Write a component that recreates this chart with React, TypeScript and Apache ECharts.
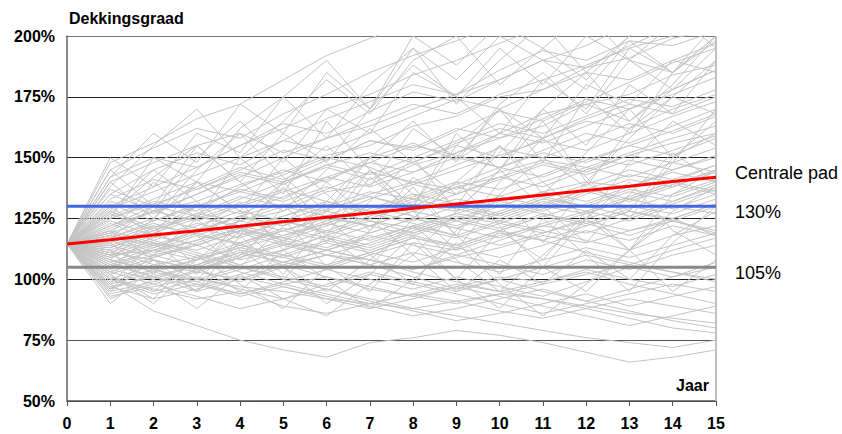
import React, { useEffect, useRef } from "react";
import * as echarts from "echarts";

const years = [0, 1, 2, 3, 4, 5, 6, 7, 8, 9, 10, 11, 12, 13, 14, 15];
const startValue = 114.5;
const yTicks = [50, 75, 100, 125, 150, 175, 200];

const central = [114.5, 116.3, 118.2, 120, 121.8, 123.7, 125.5, 127.3, 129.2, 131, 132.8, 134.7, 136.5, 138.3, 140.2, 142];
const boundHigh = 130;
const boundLow = 105;

// Simulated paths, years 1..15 (year 0 = startValue)
const paths: number[][] = [
  [120,128,135,142,150,158,163,170,176,182,190,196,205,210,215],
  [108,104,100,97,95,92,90,88,91,94,92,89,86,84,82],
  [125,132,128,138,145,140,150,156,149,160,168,172,165,178,186],
  [110,112,118,115,120,125,122,128,133,130,136,140,138,145,150],
  [98,87,81,75,71,68,74,76,79,77,74,70,66,68,71],
  [116,122,119,126,131,128,135,140,137,144,149,146,152,158,163],
  [95,99,103,100,106,110,108,104,109,113,118,115,120,124,119],
  [130,138,146,155,162,170,176,184,190,197,204,210,215,220,225],
  [112,106,109,103,98,101,96,93,97,101,99,104,100,97,102],
  [105,110,114,108,112,118,124,121,127,132,128,135,141,138,144],
  [140,148,155,160,152,158,165,172,168,176,182,188,195,200,205],
  [100,96,92,95,89,86,90,94,91,87,84,88,92,89,86],
  [118,113,120,126,122,129,134,130,138,142,148,144,151,156,160],
  [122,130,126,133,140,146,141,148,155,150,158,165,162,170,176],
  [109,115,112,118,124,120,116,122,127,124,130,127,133,129,135],
  [93,97,101,96,92,98,103,99,95,100,105,110,106,112,117],
  [128,121,130,137,133,142,148,155,151,146,153,160,156,163,170],
  [113,119,125,131,137,132,127,123,118,124,120,116,112,118,122],
  [106,101,97,102,107,104,110,115,112,118,122,127,133,139,145],
  [135,145,152,147,157,166,173,180,176,186,194,190,198,196,202],
  [99,104,108,113,109,105,111,117,114,120,116,111,107,103,99],
  [117,124,131,127,134,141,148,144,152,160,156,163,170,176,183],
  [111,108,104,110,116,112,108,103,99,95,99,103,98,94,90],
  [124,118,114,120,126,132,128,134,140,137,143,150,147,153,159],
  [103,109,115,121,117,123,129,135,131,127,133,139,145,141,147],
  [145,154,162,158,168,176,185,192,198,205,210,214,218,222,226],
  [97,92,96,101,97,93,89,85,88,92,96,91,87,83,80],
  [119,125,121,117,124,130,136,133,139,146,142,149,155,151,158],
  [107,113,119,114,110,116,112,118,124,120,126,131,137,134,140],
  [132,127,135,143,139,147,152,148,156,162,158,166,172,168,175],
  [114,109,114,120,115,110,106,111,107,103,108,113,109,114,119],
  [101,95,100,105,101,97,102,98,94,90,86,90,94,98,95],
  [126,133,140,136,143,150,146,139,145,151,157,153,160,167,173],
  [110,116,111,106,112,118,114,120,126,123,129,136,132,138,145],
  [121,128,132,139,144,151,155,163,167,175,178,187,191,199,203],
  [104,100,106,112,109,115,111,107,113,119,116,122,128,125,131],
  [137,130,138,146,141,149,157,153,161,169,165,173,181,189,195],
  [96,102,98,94,99,104,100,96,101,97,93,99,105,101,107],
  [115,121,127,124,130,126,133,139,135,142,138,145,151,148,154],
  [108,103,108,113,118,123,119,125,121,117,123,128,124,130,127],
  [123,116,122,128,124,119,125,131,128,134,130,137,143,140,147],
  [100,106,103,109,115,112,118,114,110,116,122,119,125,131,137],
  [129,136,143,150,157,153,160,167,174,170,178,185,182,190,197],
  [112,118,114,120,117,113,119,125,121,127,133,130,136,132,139],
  [94,98,93,88,92,96,91,87,83,86,90,94,89,93,97],
  [118,111,116,121,126,131,127,133,129,125,131,137,133,139,135],
  [105,112,116,124,128,136,139,147,152,158,163,172,176,184,188],
  [127,120,126,121,116,122,128,124,130,126,132,128,134,140,136],
  [116,110,105,111,107,112,108,104,110,106,102,108,104,110,114],
  [142,150,146,155,164,160,169,177,173,182,190,187,196,204,210],
  [109,114,120,126,122,128,124,119,125,121,127,123,118,124,130],
  [98,103,99,104,110,106,111,117,113,109,114,120,116,122,118],
  [120,115,110,105,100,96,92,88,85,82,79,76,74,72,75],
  [113,120,127,134,130,137,144,140,147,154,150,157,164,160,167],
  [102,108,104,99,105,110,106,101,96,100,95,91,96,101,105],
  [131,124,130,136,132,138,134,129,135,141,147,143,149,145,151],
  [111,117,123,119,114,120,126,132,138,134,140,146,142,148,144],
  [125,131,137,144,140,147,143,150,157,164,160,167,174,171,178],
  [106,112,108,114,120,116,122,118,114,120,126,122,128,124,120],
  [117,123,118,124,120,126,122,128,124,130,136,132,138,144,140],
  [100,94,98,93,97,92,88,92,97,93,89,85,81,85,89],
  [148,156,166,172,182,192,199,206,212,218,222,226,230,234,238],
  [119,114,109,115,121,117,113,119,125,131,127,123,129,135,141],
  [107,101,95,100,106,101,97,93,90,94,98,102,106,103,100],
  [133,141,137,145,153,149,157,154,162,158,166,174,170,178,186],
  [114,120,126,122,118,124,130,126,122,128,134,130,126,132,138],
  [103,98,104,109,114,110,115,121,117,123,119,125,130,127,133],
  [122,128,124,130,136,142,138,144,150,146,152,148,155,161,168],
  [97,101,106,111,107,112,117,122,118,114,119,124,120,125,131],
  [110,104,99,94,98,94,90,94,98,95,92,88,84,80,78],
  [135,128,150,165,148,170,160,185,175,195,180,200,190,185,198],
  [90,105,95,118,102,125,110,98,120,135,115,140,128,150,160],
  [150,138,160,152,175,190,170,200,188,205,195,182,200,210,195],
  [118,140,125,150,135,165,145,130,155,170,148,175,160,185,200],
  [102,92,110,98,88,105,95,115,100,120,108,128,112,135,145],
  [128,145,132,118,140,155,138,162,150,170,158,180,172,190,185],
  [96,110,125,108,130,118,142,128,112,135,150,138,162,175,168],
  [140,125,145,160,142,128,150,165,148,172,185,168,190,178,195],
  [112,95,108,122,105,90,102,118,100,88,105,95,112,125,118],
  [125,150,140,162,175,158,180,195,172,190,205,185,200,215,220],
  [108,122,105,120,138,115,132,150,128,145,165,140,158,175,190],
  [92,100,88,102,92,85,98,110,95,108,98,112,100,118,128],
  [138,155,170,150,165,182,168,190,200,180,195,210,190,205,215],
  [115,102,120,132,112,128,145,125,140,155,135,152,170,150,165],
  [105,118,130,112,100,118,105,125,140,122,105,125,140,120,110],
  [145,130,155,140,160,148,170,188,175,160,182,170,195,185,200],
  [120,108,95,110,125,105,120,138,118,102,125,110,95,115,130],
  [98,115,102,125,140,122,145,130,160,145,170,155,180,168,190],
  [130,118,140,128,150,135,120,142,130,155,140,125,148,165,155],
  [110,125,140,128,115,132,150,135,118,140,158,142,125,148,170],
  [102,90,105,95,112,100,88,100,115,98,85,98,112,95,108],
  [127,142,155,140,128,145,162,148,135,152,170,185,165,180,200],
  [117,130,118,105,122,140,125,110,128,145,130,115,135,152,140],
  [142,160,148,172,160,185,170,195,182,200,190,178,198,185,205],
  [95,108,100,115,105,95,108,122,108,95,110,125,112,128,138],
];

const FONT = "'Liberation Sans', Arial, sans-serif";

export default function App() {
  const ref = useRef<HTMLDivElement>(null);
  useEffect(() => {
    if (!ref.current) return;
    const chart = echarts.init(ref.current, undefined, { renderer: "svg" });
    const pathSeries = paths.map((p) => ({
      type: "line",
      data: years.map((yr, i) => [yr, i === 0 ? startValue : p[i - 1]]),
      showSymbol: false,
      silent: true,
      lineStyle: { color: "#c4c4c4", width: 1 },
      z: 2,
    }));
    chart.setOption({
      animation: false,
      grid: { left: 67, right: 126, top: 36, bottom: 33 },
      xAxis: {
        type: "value",
        min: 0,
        max: 15,
        interval: 1,
        axisLine: { show: true, lineStyle: { color: "#555", width: 1.5 } },
        axisTick: { show: true, length: 5, lineStyle: { color: "#555" } },
        axisLabel: { color: "#000", fontWeight: "bold", fontSize: 16, fontFamily: FONT, margin: 14 },
        splitLine: { show: false },
      },
      yAxis: {
        type: "value",
        min: yTicks[0],
        max: yTicks[yTicks.length - 1],
        interval: 25,
        axisLine: { show: true, lineStyle: { color: "#666", width: 1.5 } },
        axisTick: { show: false },
        axisLabel: { color: "#000", fontWeight: "bold", fontSize: 16, fontFamily: FONT, margin: 12, formatter: "{value}%" },
        splitLine: { show: true, lineStyle: { color: ["#333", "#555", "#222", "#222", "#222", "#222", "#777"], width: 1 } },
      },
      series: [
        ...pathSeries,
        {
          type: "line",
          data: [[15, 50], [15, 200]],
          showSymbol: false,
          silent: true,
          lineStyle: { color: "#c0c0c0", width: 2 },
          z: 3,
        },
        {
          type: "line",
          data: [[0, boundLow], [15, boundLow]],
          showSymbol: false,
          silent: true,
          lineStyle: { color: "#888888", width: 3 },
          z: 4,
        },
        {
          type: "line",
          data: [[0, boundHigh], [15, boundHigh]],
          showSymbol: false,
          silent: true,
          lineStyle: { color: "#4169e1", width: 3 },
          z: 5,
        },
        {
          type: "line",
          data: years.map((yr, i) => [yr, central[i]]),
          showSymbol: false,
          silent: true,
          lineStyle: { color: "#ff0000", width: 3 },
          z: 6,
        },
      ],
      graphic: [
        { type: "text", left: 69, top: 10, style: { text: "Dekkingsgraad", fontWeight: "bold", fontSize: 16, fontFamily: FONT, fill: "#000" } },
        { type: "text", left: 676, top: 377, style: { text: "Jaar", fontWeight: "bold", fontSize: 16, fontFamily: FONT, fill: "#000" } },
        { type: "text", left: 735, top: 164, style: { text: "Centrale pad", fontSize: 18, fontFamily: FONT, fill: "#000" } },
        { type: "text", left: 735, top: 203, style: { text: "130%", fontSize: 18, fontFamily: FONT, fill: "#000" } },
        { type: "text", left: 735, top: 264, style: { text: "105%", fontSize: 18, fontFamily: FONT, fill: "#000" } },
      ],
    });
    return () => chart.dispose();
  }, []);
  return <div ref={ref} style={{ width: 842, height: 434, position: "absolute", left: 0, top: 0 }} />;
}
